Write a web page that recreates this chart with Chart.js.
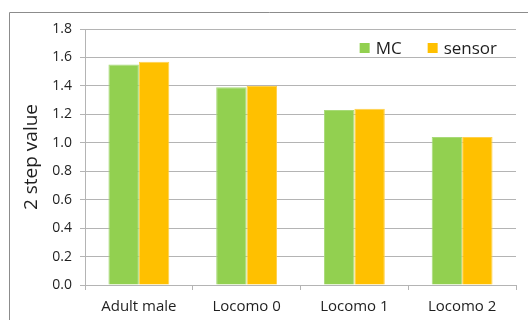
<!DOCTYPE html>
<html>
<head>
<meta charset="utf-8">
<script src="https://cdn.jsdelivr.net/npm/chart.js@4/dist/chart.umd.min.js"></script>
<style>
  html, body { margin: 0; padding: 0; background: #fff; }
  #c { display: block; }
</style>
</head>
<body>
<canvas id="c" width="528" height="320"></canvas>
<script>
const categories = ["Adult male", "Locomo 0", "Locomo 1", "Locomo 2"];
const mcValues = [1.55, 1.39, 1.23, 1.04];
const sensorValues = [1.57, 1.40, 1.24, 1.04];
const seriesNames = ["MC", "sensor"];
const yTicks = [0.0, 0.2, 0.4, 0.6, 0.8, 1.0, 1.2, 1.4, 1.6, 1.8];
const yTitle = "2 step value";

const FONT = "'Open Sans', 'DejaVu Sans', sans-serif";
const GRID = '#B4B4B4';

const framePlugin = {
  id: 'frame',
  beforeDraw(chart) {
    const ctx = chart.ctx;
    ctx.save();
    ctx.strokeStyle = '#8C8C8C';
    ctx.lineWidth = 1;
    ctx.beginPath();
    ctx.moveTo(9.5, 330);
    ctx.lineTo(9.5, 12.5);
    ctx.lineTo(540, 12.5);
    ctx.stroke();
    ctx.restore();
  }
};

const legendPlugin = {
  id: 'customLegend',
  afterDraw(chart) {
    const ctx = chart.ctx;
    const area = chart.chartArea;
    ctx.save();
    ctx.font = "17px " + FONT;
    ctx.textBaseline = 'middle';
    ctx.textAlign = 'left';
    const box = 10, gapText = 6, gapItem = 26;
    const items = chart.data.datasets.map(d => ({ label: d.label, color: d.backgroundColor, w: ctx.measureText(d.label).width }));
    let total = 0;
    items.forEach((it, i) => { total += box + gapText + it.w + (i < items.length - 1 ? gapItem : 0); });
    let x = area.right - 19 - total;
    const cy = area.top + 19;
    items.forEach(it => {
      ctx.fillStyle = it.color;
      ctx.fillRect(x, cy - box / 2, box, box);
      x += box + gapText;
      ctx.fillStyle = '#1F1F1F';
      ctx.fillText(it.label, x, cy + 1);
      x += it.w + gapItem;
    });
    ctx.restore();
  }
};

new Chart(document.getElementById('c'), {
  type: 'bar',
  data: {
    labels: categories,
    datasets: [
      { label: seriesNames[0], data: mcValues, backgroundColor: '#92D050', borderColor: '#A8DA78', borderWidth: 1,
        categoryPercentage: 0.565, barPercentage: 1.0 },
      { label: seriesNames[1], data: sensorValues, backgroundColor: '#FFC000', borderColor: '#FFD04A', borderWidth: 1,
        categoryPercentage: 0.565, barPercentage: 1.0 }
    ]
  },
  options: {
    responsive: false,
    animation: false,
    devicePixelRatio: 1,
    layout: { padding: { left: 0, top: 29, right: 12, bottom: 0 } },
    plugins: {
      legend: { display: false },
      tooltip: { enabled: false }
    },
    scales: {
      x: {
        grid: { display: true, drawOnChartArea: false, drawTicks: true, tickLength: 5, color: GRID, offset: true },
        border: { display: true, color: GRID },
        ticks: { color: '#1F1F1F', font: { family: FONT, size: 15 }, padding: 8, maxRotation: 0 },
        afterFit(s) { s.height = 35; }
      },
      y: {
        min: 0, max: 1.8,
        afterBuildTicks(s) { s.ticks = yTicks.map(v => ({ value: v })); },
        grid: { color: GRID, drawTicks: true, tickLength: 5 },
        border: { display: true, color: GRID },
        ticks: { color: '#1F1F1F', font: { family: FONT, size: 14 }, padding: 8,
                 callback: v => Number(v).toFixed(1) },
        title: { display: true, text: yTitle, color: '#1F1F1F', font: { family: FONT, size: 19 }, padding: { top: 20, bottom: 0 } },
        afterFit(s) { s.width = 85; }
      }
    }
  },
  plugins: [framePlugin, legendPlugin]
});
</script>
</body>
</html>
